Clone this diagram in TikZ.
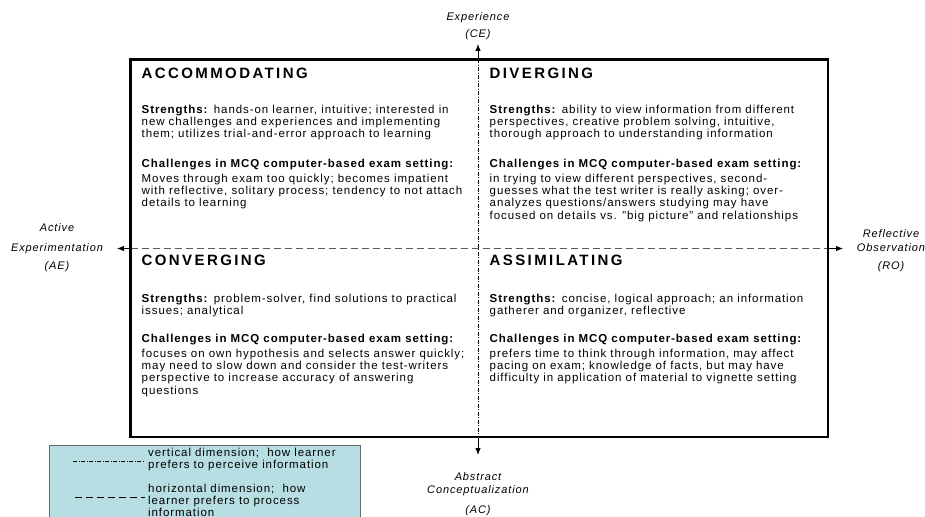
\documentclass[tikz,border=0pt]{standalone}
\usepackage{fontspec}
\setmainfont{Liberation Sans}[LetterSpace=8]
\usepackage{tikz}
\usetikzlibrary{arrows.meta}

\definecolor{legendfill}{RGB}{183,222,226}

\begin{document}
\begin{tikzpicture}[x=1pt, y=-1pt,
    quadhead/.style={anchor=north west, inner sep=0pt, font=\fontsize{15}{17}\selectfont\bfseries\addfontfeature{LetterSpace=16}},
    quadtext/.style={anchor=north west, inner sep=0pt, align=left, font=\fontsize{11.5}{12.3}\selectfont},
    axislabel/.style={anchor=north, inner sep=0pt, align=center, font=\fontsize{11}{12.3}\selectfont\itshape},
    legendtext/.style={anchor=north west, inner sep=0pt, align=left, font=\fontsize{11.5}{12}\selectfont},
    axistip/.style={-{Latex[length=7pt,width=5.5pt]}, line width=0.8pt},
    procline/.style={dash pattern=on 7pt off 4pt, draw=black!65, line width=0.8pt},
    percline/.style={dash pattern=on 4pt off 1.5pt on 1pt off 1.5pt, line width=0.5pt}]
      \useasboundingbox (0,0) rectangle (925,516);
      % axes
      \coordinate (ceTip) at (478,44);
      \coordinate (ceEnd) at (478,59.5);
      \coordinate (acEnd) at (478,437);
      \coordinate (acTip) at (478,455);
      \coordinate (aeTip) at (117,248.5);
      \coordinate (aeEnd) at (130.5,248.5);
      \coordinate (roEnd) at (828,248.5);
      \coordinate (roTip) at (843,248.5);
      \draw[percline] (ceEnd) -- (acEnd);
      \draw[procline] (aeEnd) -- (roEnd);
      \draw[axistip] (ceEnd) -- (ceTip);
      \draw[axistip] (acEnd) -- (acTip);
      \draw[axistip] (aeEnd) -- (aeTip);
      \draw[axistip] (roEnd) -- (roTip);
      \draw[line width=2.6pt] (130.5,59.5) rectangle (828,437);
      % axis labels
      \node[axislabel] (ce) at (478,12.2) {Experience\\[4.7pt](CE)};
      \node[axislabel] (ae) at (57,223.2) {Active\\[7.7pt]Experimentation\\[5.7pt](AE)};
      \node[axislabel] (ro) at (891,229) {Reflective\\[1.7pt]Observation\\[5.7pt](RO)};
      \node[axislabel] (ac) at (478,472) {Abstract\\[0.7pt]Conceptualization\\[7.7pt](AC)};
      % accommodating
      \node[quadhead] (accHead) at (141.5,68) {ACCOMMODATING};
      \node[quadtext] (accStr) at (141.5,104.6) {\textbf{Strengths:} hands-on learner, intuitive; interested in\\
        new challenges and experiences and implementing\\
        them; utilizes trial-and-error approach to learning};
      \node[quadtext] (accChl) at (141.5,159.1) {\textbf{Challenges in MCQ computer-based exam setting:}\\[2.2pt]
        Moves through exam too quickly; becomes impatient\\
        with reflective, solitary process; tendency to not attach\\
        details to learning};
      % diverging
      \node[quadhead] (divHead) at (489.5,68) {DIVERGING};
      \node[quadtext] (divStr) at (489.5,104.6) {\textbf{Strengths:} ability to view information from different\\
        perspectives, creative problem solving, intuitive,\\
        thorough approach to understanding information};
      \node[quadtext] (divChl) at (489.5,159.1) {\textbf{Challenges in MCQ computer-based exam setting:}\\[2.2pt]
        in trying to view different perspectives, second-\\
        guesses what the test writer is really asking; over-\\
        analyzes questions/answers studying may have\\
        focused on details vs. "big picture" and relationships};
      % converging
      \node[quadhead] (conHead) at (141.5,255) {CONVERGING};
      \node[quadtext] (conStr) at (141.5,294.1) {\textbf{Strengths:} problem-solver, find solutions to practical\\
        issues; analytical};
      \node[quadtext] (conChl) at (141.5,334.1) {\textbf{Challenges in MCQ computer-based exam setting:}\\[2.2pt]
        focuses on own hypothesis and selects answer quickly;\\
        may need to slow down and consider the test-writers\\
        perspective to increase accuracy of answering\\
        questions};
      % assimilating
      \node[quadhead] (assHead) at (489.5,255) {ASSIMILATING};
      \node[quadtext] (assStr) at (489.5,294.1) {\textbf{Strengths:} concise, logical approach; an information\\
        gatherer and organizer, reflective};
      \node[quadtext] (assChl) at (489.5,334.1) {\textbf{Challenges in MCQ computer-based exam setting:}\\[2.2pt]
        prefers time to think through information, may affect\\
        pacing on exam; knowledge of facts, but may have\\
        difficulty in application of material to vignette setting};
      % legend
      \filldraw[fill=legendfill, draw=black!60, line width=0.8pt] (49,445) rectangle (360,530);
      \draw[percline] (73,461) -- (145,461);
      \draw[procline, draw=black] (75,497) -- (145,497);
      \node[legendtext] (vertKey) at (148,448) {vertical dimension;\ \ how learner\\prefers to perceive information};
      \node[legendtext] (horiKey) at (148,484) {horizontal dimension;\ \ how\\learner prefers to process\\information};
    \end{tikzpicture}
\end{document}
